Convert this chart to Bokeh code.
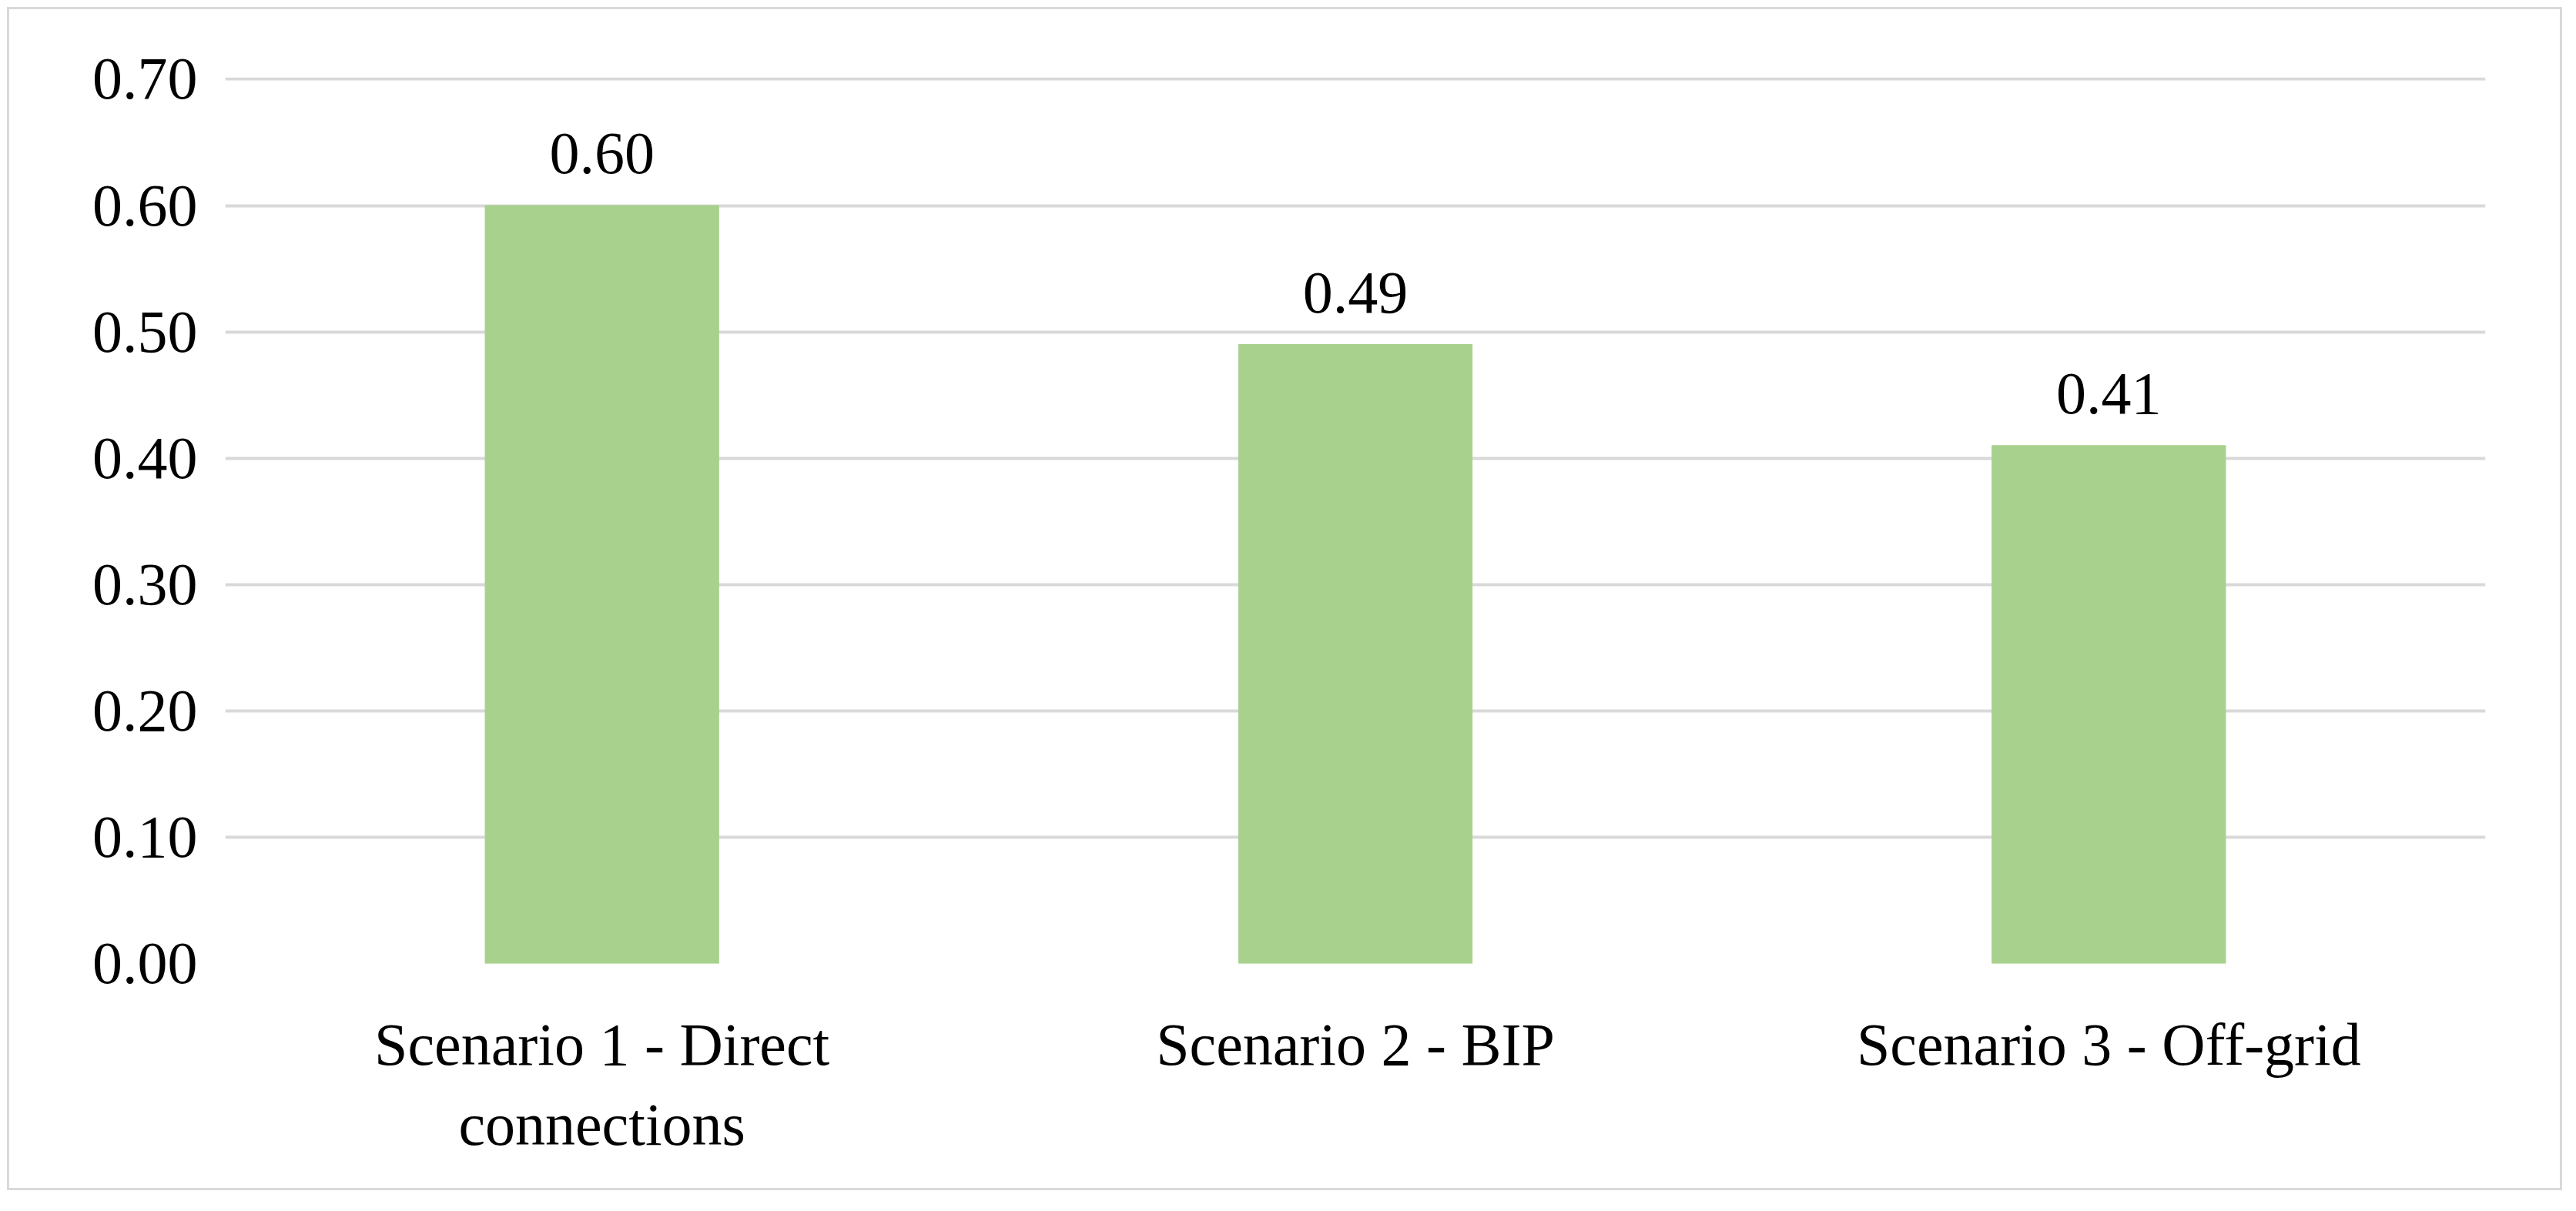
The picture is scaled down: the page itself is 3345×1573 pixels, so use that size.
from bokeh.plotting import figure
from bokeh.models import ColumnDataSource, NumeralTickFormatter, FixedTicker
from bokeh.layouts import column
from bokeh.embed import file_html
from bokeh.resources import INLINE
from bokeh.core.properties import value

categories = ["Scenario 1 - Direct\nconnections", "Scenario 2 - BIP", "Scenario 3 - Off-grid"]
values = [0.60, 0.49, 0.41]
labels = ["0.60", "0.49", "0.41"]
yticks = [0.0, 0.1, 0.2, 0.3, 0.4, 0.5, 0.6, 0.7]

src = ColumnDataSource(dict(x=categories, y=values, t=labels))
FONT = "Liberation Serif"
FS = "78px"

p = figure(x_range=categories, y_range=(0, 0.7015), width=3312, height=1531,
           output_backend="svg", toolbar_location=None,
           min_border_left=280, min_border_top=88, min_border_right=97, min_border_bottom=292)
p.outline_line_color = None
p.vbar(x="x", top="y", width=0.31, source=src, color="#a9d18e")
p.text(x="x", y="y", text="t", source=src, text_align="center", text_baseline="bottom",
       y_offset=-42, text_font=value(FONT), text_font_size=FS, text_color="#000000")
p.yaxis.ticker = FixedTicker(ticks=yticks)
p.yaxis.formatter = NumeralTickFormatter(format="0.00")
for ax in (p.xaxis, p.yaxis):
    ax.axis_line_color = None
    ax.major_tick_line_color = None
    ax.minor_tick_line_color = None
    ax.major_label_text_font = FONT
    ax.major_label_text_font_size = FS
    ax.major_label_text_color = "#000000"
p.yaxis.major_label_standoff = 30
p.xaxis.major_label_standoff = 55
p.xgrid.grid_line_color = None
p.ygrid.grid_line_color = "#d9d9d9"
p.ygrid.grid_line_width = 4

layout = column(p, styles={"border": "3px solid #d9d9d9"}, margin=(9, 0, 0, 9))
open("out.html", "w").write(file_html(layout, INLINE))
